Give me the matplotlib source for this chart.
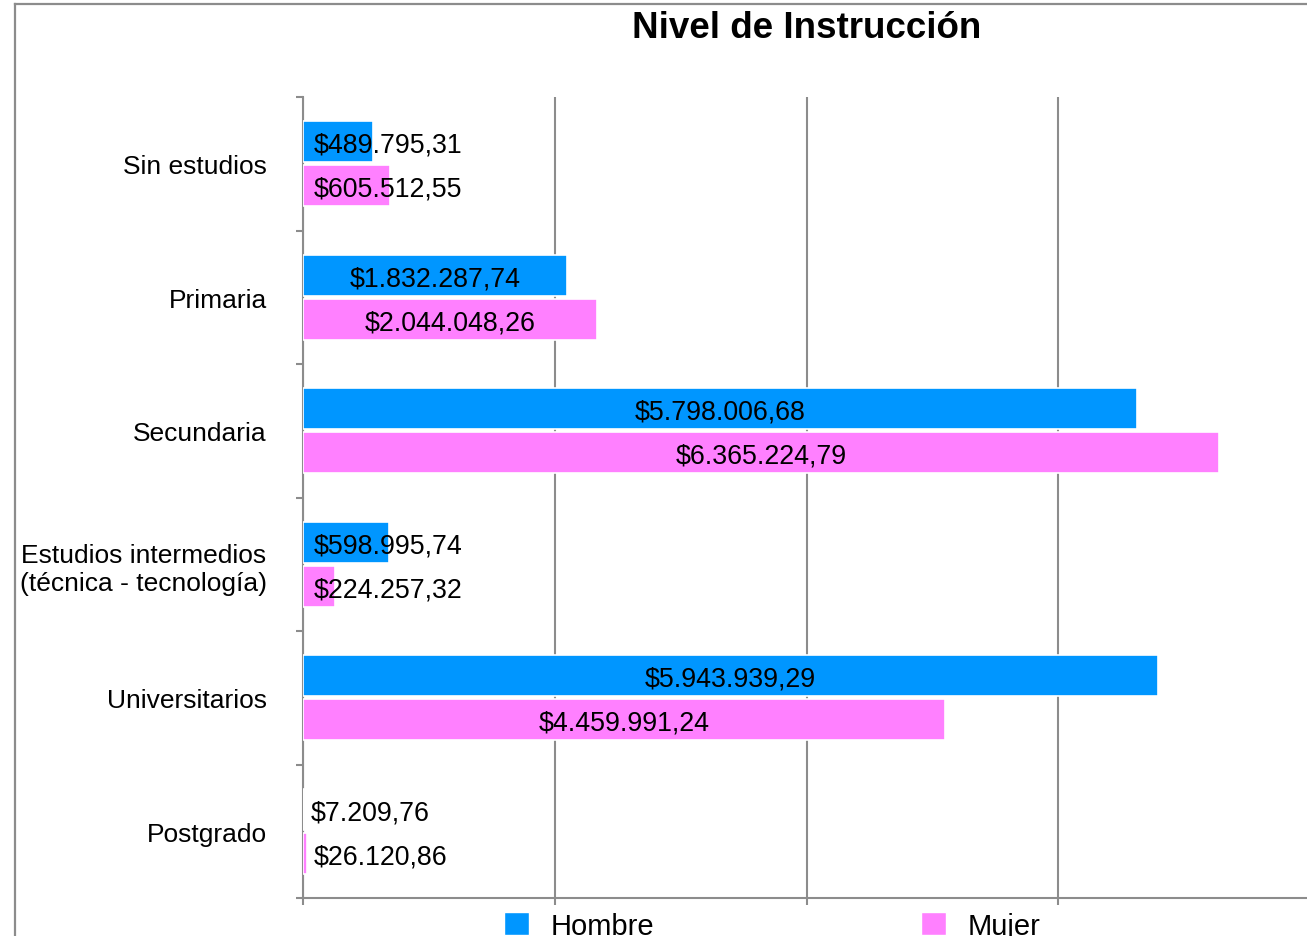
import matplotlib
matplotlib.use("Agg")
import matplotlib.pyplot as plt
from matplotlib.lines import Line2D
from matplotlib.patches import Patch

plt.rcParams["font.family"] = ["Liberation Sans", "DejaVu Sans"]

categories = [
    "Sin estudios",
    "Primaria",
    "Secundaria",
    "Estudios intermedios\n(técnica - tecnología)",
    "Universitarios",
    "Postgrado",
]
hombre = [489795.31, 1832287.74, 5798006.68, 598995.74, 5943939.29, 7209.76]
mujer = [605512.55, 2044048.26, 6365224.79, 224257.32, 4459991.24, 26120.86]
series = [("Hombre", hombre, "#0096ff"), ("Mujer", mujer, "#ff80ff")]

GRAY = "#8c8c8c"


def money(v):
    s = f"{v:,.2f}"
    s = s.replace(",", "X").replace(".", ",").replace("X", ".")
    return "$" + s


fig = plt.figure(figsize=(13.07, 9.37), dpi=100)
ax = fig.add_axes([303 / 1307, 1 - 899 / 937, 1007 / 1307, (899 - 98) / 937])

n = len(categories)
pos = list(range(n))
offsets = [-0.165, 0.165]
height = 0.31

fig.canvas.draw()
renderer = fig.canvas.get_renderer()

ax.set_xlim(0, 7_000_000)
ax.set_ylim(n - 0.5, -0.5)

for (name, vals, color), off in zip(series, offsets):
    ys = [p + off for p in pos]
    ax.barh(ys, vals, height=height, color=color, edgecolor="white",
            linewidth=1.2, label=name, zorder=3)
    for y, v in zip(ys, vals):
        txt = ax.text(0, y, money(v), fontsize=19.3, va="center_baseline",
                      ha="left", zorder=4)
        w_px = txt.get_window_extent(renderer).width
        x0 = ax.transData.transform((0, y))[0]
        x1 = ax.transData.transform((v, y))[0]
        if w_px + 10 < x1 - x0:
            txt.set_x(v / 2)
            txt.set_ha("center")
        elif x1 - x0 < 6:
            txt.set_x(ax.transData.inverted().transform((x1 + 7, 0))[0])
        else:
            txt.set_x(ax.transData.inverted().transform((x0 + 11, 0))[0])

# y axis: labels at centres, tick marks at boundaries
ax.set_yticks(pos)
ax.set_yticklabels(categories, fontsize=19, multialignment="center")
ax.set_yticks([p - 0.5 for p in range(n + 1)], minor=True)
ax.tick_params(axis="y", which="major", length=0, pad=26)
ax.tick_params(axis="y", which="minor", length=5, width=1.5, color=GRAY)

ax.set_xticks([0, 1_750_000, 3_500_000, 5_250_000, 7_000_000])
ax.set_xticklabels([])
ax.tick_params(axis="x", length=5, width=1.5, color=GRAY)
ax.grid(True, axis="x", color=GRAY, linewidth=1.5, zorder=1)
ax.set_axisbelow(True)

for side in ("top", "right"):
    ax.spines[side].set_visible(False)
for side in ("left", "bottom"):
    ax.spines[side].set_color(GRAY)
    ax.spines[side].set_linewidth(1.5)

fig.text((303 + 1310) / 2 / 1307, 1 - 28 / 937, "Nivel de Instrucción",
         fontsize=26.5, fontweight="bold", ha="center", va="center")

handles = [Patch(facecolor=c, edgecolor="white", linewidth=1.0) for _, _, c in series]
ax.legend(handles, [s[0] for s in series], loc="upper center",
          bbox_to_anchor=(0.466, -0.017), ncol=2, frameon=False, fontsize=21,
          handlelength=0.85, handleheight=0.85, handletextpad=0.75,
          columnspacing=9.15, borderpad=0, borderaxespad=0)

# outer frame (top and left edges visible)
fx = 15 / 1307
fy = 1 - 5 / 937
fig.add_artist(Line2D([fx, fx], [0, fy], color=GRAY, linewidth=1.6, transform=fig.transFigure))
fig.add_artist(Line2D([fx, 1], [fy, fy], color=GRAY, linewidth=1.6, transform=fig.transFigure))

fig.savefig("out.png", dpi=100)
